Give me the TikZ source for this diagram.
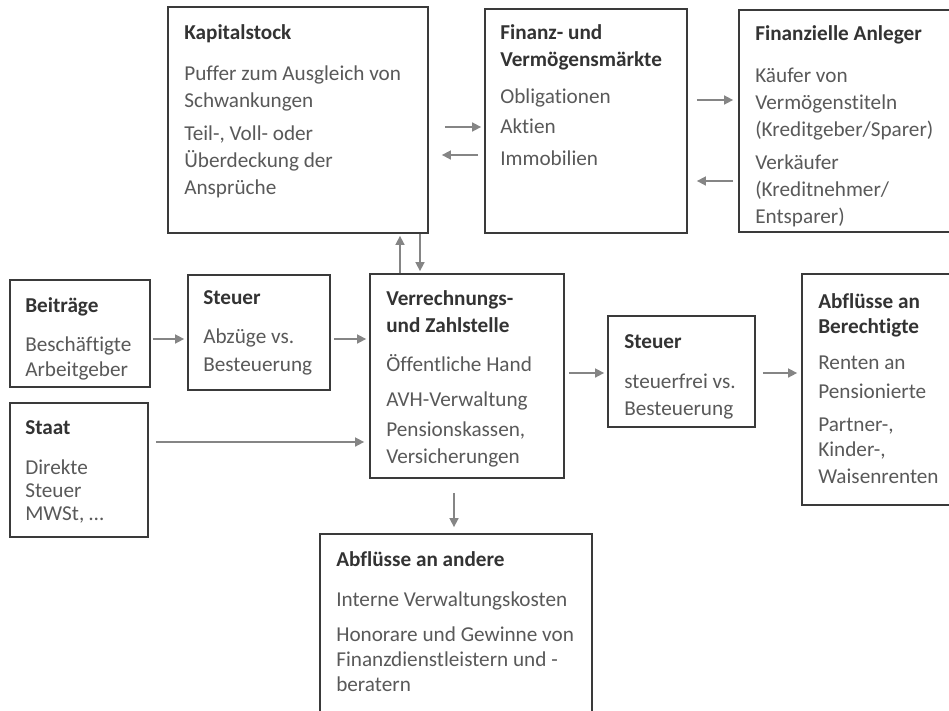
\documentclass[tikz,border=0pt]{standalone}
\usepackage{fontspec}
\setmainfont[Ligatures=CommonOff]{Carlito}
\usetikzlibrary{arrows.meta}
\definecolor{boxline}{HTML}{3A3A3A}
\definecolor{headc}{HTML}{333333}
\definecolor{bodyc}{HTML}{595959}
\definecolor{arrc}{HTML}{858585}
\begin{document}
\begin{tikzpicture}[x=1pt,y=-1pt,
  box/.style={draw=boxline,line width=1.8pt,inner sep=0pt},
  txt/.style={anchor=north west,align=left,inner sep=0pt,text=bodyc,
    font=\fontsize{21.2}{27}\selectfont},
  flow/.style={draw=arrc,line width=1.6pt,-{Triangle[length=9pt,width=9pt]}}]
\newcommand{\hd}[1]{\textcolor{headc}{\bfseries #1}}
\clip (0,0) rectangle (949,710);
\fill[white] (0,0) rectangle (949,710);
% boxes
\node[box,minimum width=260pt,minimum height=226pt] (kap) at (298,120) {};
\node[box,minimum width=202pt,minimum height=224pt] (fin) at (586,121) {};
\node[box,minimum width=222pt,minimum height=222pt] (anl) at (850,121) {};
\node[box,minimum width=140pt,minimum height=107pt] (bei) at (80,333.5) {};
\node[box,minimum width=142pt,minimum height=115pt] (st1) at (259,332.5) {};
\node[box,minimum width=194pt,minimum height=204pt] (ver) at (467,376) {};
\node[box,minimum width=138pt,minimum height=134pt] (sta) at (79,470) {};
\node[box,minimum width=147pt,minimum height=111pt] (st2) at (681.5,371.5) {};
\node[box,minimum width=160pt,minimum height=231pt] (abb) at (882,389.5) {};
\node[box,minimum width=272pt,minimum height=190pt] (and) at (456,629) {};
% texts
\node[txt] (kapt) at ([xshift=17pt,yshift=-18pt]kap.north west)
  {\hd{Kapitalstock}\\[14pt]Puffer zum Ausgleich von\\Schwankungen\\[6pt]Teil-, Voll- oder\\Überdeckung der\\Ansprüche};
\node[txt] (fint) at ([xshift=16pt,yshift=-16pt]fin.north west)
  {\hd{Finanz- und}\\\hd{Vermögensmärkte}\\[10pt]Obligationen\\[3pt]Aktien\\[5pt]Immobilien};
\node[txt] (anlt) at ([xshift=17pt,yshift=-16pt]anl.north west)
  {\hd{Finanzielle Anleger}\\[15pt]Käufer von\\Vermögenstiteln\\(Kreditgeber/Sparer)\\[6pt]Verkäufer\\(Kreditnehmer/\\Entsparer)};
\node[txt] (beit) at ([xshift=16pt,yshift=-18pt]bei.north west)
  {\hd{Beiträge}\\[12pt]Beschäftigte\\[-2pt]Arbeitgeber};
\node[txt] (st1t) at ([xshift=16pt,yshift=-16pt]st1.north west)
  {\hd{Steuer}\\[12pt]Abzüge vs.\\[1pt]Besteuerung};
\node[txt] (vert) at ([xshift=17pt,yshift=-17pt]ver.north west)
  {\hd{Verrechnungs-}\\\hd{und Zahlstelle}\\[12pt]Öffentliche Hand\\[8pt]AVH-Verwaltung\\[3pt]Pensionskassen,\\Versicherungen};
\node[txt] (stat) at ([xshift=16pt,yshift=-18pt]sta.north west)
  {\hd{Staat}\\[13pt]Direkte\\[-4pt]Steuer\\[-4pt]MWSt, \dots};
\node[txt] (st2t) at ([xshift=17pt,yshift=-19pt]st2.north west)
  {\hd{Steuer}\\[13pt]steuerfrei vs.\\Besteuerung};
\node[txt] (abbt) at ([xshift=17pt,yshift=-20pt]abb.north west)
  {\hd{Abflüsse an}\\[-2pt]\hd{Berechtigte}\\[9pt]Renten an\\[2pt]Pensionierte\\[6pt]Partner-,\\[-2pt]Kinder-,\\Waisenrenten};
\node[txt] (andt) at ([xshift=17pt,yshift=-18pt]and.north west)
  {\hd{Abflüsse an andere}\\[13pt]Interne Verwaltungskosten\\[8pt]Honorare und Gewinne von\\[-2pt]Finanzdienstleistern und -\\[-2pt]beratern};
% connector anchor points
\coordinate (a1s) at (kap.east |- 0,127);
\coordinate (a2s) at (fin.west |- 0,155);
\coordinate (a3s) at (fin.east |- 0,100);
\coordinate (a4s) at (anl.west |- 0,181);
\coordinate (u1) at (400,0);
\coordinate (u2) at (420,0);
\coordinate (sy) at (0,442);
\coordinate (vx) at (454,0);
% connectors
\draw[flow] ([xshift=16pt]a1s) -- ([xshift=-3pt]fin.west |- a1s);
\draw[flow] ([xshift=-6pt]a2s) -- ([xshift=13pt]kap.east |- a2s);
\draw[flow] ([xshift=9pt]a3s) -- ([xshift=-5pt]anl.west |- a3s);
\draw[flow] ([xshift=-5pt]a4s) -- ([xshift=9pt]fin.east |- a4s);
\draw[flow] (ver.north -| u1) -- ([yshift=-2pt]kap.south -| u1);
\draw[flow] (kap.south -| u2) -- ([yshift=2pt]ver.north -| u2);
\draw[flow] ([xshift=2pt]bei.east) ++(0,5.5) -- ([xshift=-3pt]st1.west |- 0,339);
\draw[flow] ([xshift=3pt]st1.east) ++(0,6.5) -- ([xshift=-3pt]ver.west |- 0,339);
\draw[flow] ([xshift=7pt]sta.east |- sy) -- ([xshift=-5pt]ver.west |- sy);
\draw[flow] ([xshift=4pt]ver.east |- 0,373) -- ([xshift=-3pt]st2.west |- 0,373);
\draw[flow] ([xshift=7pt]st2.east |- 0,373) -- ([xshift=-4pt]abb.west |- 0,373);
\draw[flow] ([yshift=-14pt]ver.south -| vx) -- ([yshift=6pt]and.north -| vx);
\end{tikzpicture}
\end{document}
